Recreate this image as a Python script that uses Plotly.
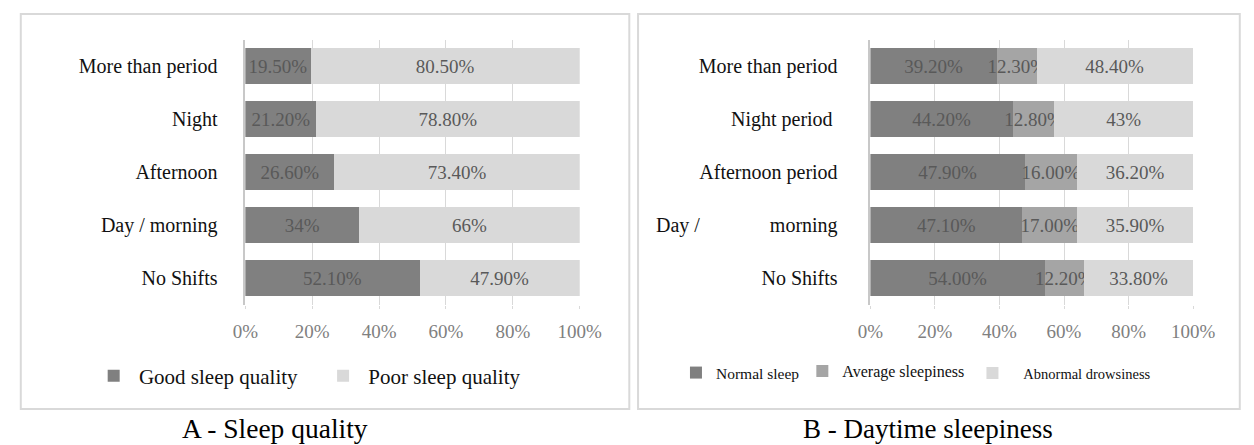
import plotly.graph_objects as go

# ---------------- data ----------------
categories_a = ["More than period", "Night", "Afternoon", "Day\u00a0/ morning", "No Shifts"]
good_sleep = [19.5, 21.2, 26.6, 34, 52.1]
poor_sleep = [80.5, 78.8, 73.4, 66, 47.9]
good_labels = ["19.50%", "21.20%", "26.60%", "34%", "52.10%"]
poor_labels = ["80.50%", "78.80%", "73.40%", "66%", "47.90%"]

categories_b = ["More than period", "Night period\u00a0", "Afternoon period",
                "Day\u00a0/" + "\u00a0" * 14 + "morning",
                "No Shifts"]
normal_sleep = [39.2, 44.2, 47.9, 47.1, 54.0]
average_sleepiness = [12.3, 12.8, 16.0, 17.0, 12.2]
abnormal_drowsiness = [48.4, 43, 36.2, 35.9, 33.8]
normal_labels = ["39.20%", "44.20%", "47.90%", "47.10%", "54.00%"]
average_labels = ["12.30%", "12.80%", "16.00%", "17.00%", "12.20%"]
abnormal_labels = ["48.40%", "43%", "36.20%", "35.90%", "33.80%"]

x_ticks = [0, 20, 40, 60, 80, 100]
x_tick_text = ["0%", "20%", "40%", "60%", "80%", "100%"]

# ---------------- styles ----------------
W, H = 1254, 445
SERIF = "Liberation Serif, Times New Roman, serif"
DARK = "#808080"
MID = "#a5a5a5"
LIGHT = "#d9d9d9"
LABEL_FONT = dict(family=SERIF, size=19, color="#595959")


def px_x(p):
    return p / W


def px_y(p):
    return 1 - p / H


fig = go.Figure()


def add_bar(name, y, x, text, color, xa, ya, legend):
    fig.add_trace(go.Bar(
        name=name, y=y, x=x, orientation="h",
        marker=dict(color=color, line=dict(width=0)),
        text=text, texttemplate="%{text}",
        textposition="inside", insidetextanchor="middle",
        textangle=0, constraintext="none",
        insidetextfont=LABEL_FONT,
        xaxis=xa, yaxis=ya, legend=legend,
        hoverinfo="skip",
    ))


add_bar("\u00a0Good sleep quality", categories_a, good_sleep, good_labels, DARK, "x", "y", "legend")
add_bar("\u00a0Poor sleep quality", categories_a, poor_sleep, poor_labels, LIGHT, "x", "y", "legend2")
add_bar("Normal sleep", categories_b, normal_sleep, normal_labels, DARK, "x2", "y2", "legend3")
add_bar("Average sleepiness", categories_b, average_sleepiness, average_labels, MID, "x2", "y2", "legend4")
add_bar("\u00a0\u00a0\u00a0Abnormal drowsiness", categories_b, abnormal_drowsiness, abnormal_labels, LIGHT, "x2", "y2", "legend5")

y_dom = [px_y(304.5), px_y(39.5)]

xaxis_common = dict(
    range=[0, 100], tickvals=x_ticks, ticktext=x_tick_text,
    showgrid=True, gridcolor="#d9d9d9", gridwidth=1,
    zeroline=False, showline=False,
    ticks="outside", ticklen=3, tickcolor="#d9d9d9",
    tickfont=dict(family=SERIF, size=19, color="#808080"),
    ticklabelstandoff=7, fixedrange=True,
)
yaxis_common = dict(
    autorange="reversed", showgrid=False, zeroline=False,
    showline=True, linecolor="#c8c8c8", linewidth=1.5,
    ticks="", tickfont=dict(family=SERIF, size=20, color="#111111"),
    domain=y_dom, fixedrange=True,
)

legend_common = dict(
    orientation="h", yanchor="middle", xanchor="left",
    bgcolor="rgba(0,0,0,0)", borderwidth=0,
    itemclick=False, itemdoubleclick=False,
)

fig.update_layout(
    width=W, height=H,
    margin=dict(l=0, r=0, t=0, b=0),
    paper_bgcolor="white", plot_bgcolor="white",
    barmode="stack", bargap=0.32,
    showlegend=True,
    xaxis=dict(domain=[px_x(239), px_x(583)], anchor="y", **xaxis_common),
    yaxis=dict(anchor="x", ticklabelstandoff=22, **yaxis_common),
    xaxis2=dict(domain=[px_x(882), px_x(1214)], anchor="y2", **xaxis_common),
    yaxis2=dict(anchor="x2", ticklabelstandoff=27, **yaxis_common),
    legend=dict(x=px_x(103 - 20), y=px_y(376),
                font=dict(family=SERIF, size=21, color="#111111"), **legend_common),
    legend2=dict(x=px_x(339 - 20), y=px_y(376),
                 font=dict(family=SERIF, size=21, color="#111111"), **legend_common),
    legend3=dict(x=px_x(702 - 20), y=px_y(373),
                 font=dict(family=SERIF, size=15.5, color="#111111"), **legend_common),
    legend4=dict(x=px_x(832 - 20), y=px_y(371),
                 font=dict(family=SERIF, size=16, color="#111111"), **legend_common),
    legend5=dict(x=px_x(1007 - 20), y=px_y(373),
                 font=dict(family=SERIF, size=14.5, color="#111111"), **legend_common),
    shapes=[
        dict(type="rect", xref="paper", yref="paper",
             x0=px_x(8), x1=px_x(634), y0=px_y(409), y1=px_y(14),
             line=dict(color="#d9d9d9", width=2), fillcolor="rgba(0,0,0,0)", layer="below"),
        dict(type="rect", xref="paper", yref="paper",
             x0=px_x(643), x1=px_x(1262), y0=px_y(409), y1=px_y(14),
             line=dict(color="#d9d9d9", width=2), fillcolor="rgba(0,0,0,0)", layer="below"),
    ],
    annotations=[
        dict(text="A - Sleep quality", xref="paper", yref="paper",
             x=px_x(270), y=0, xanchor="center", yanchor="bottom", borderpad=0,
             showarrow=False, font=dict(family=SERIF, size=27.5, color="#000000")),
        dict(text="B - Daytime sleepiness", xref="paper", yref="paper",
             x=px_x(941), y=0, xanchor="center", yanchor="bottom", borderpad=0,
             showarrow=False, font=dict(family=SERIF, size=27, color="#000000")),
    ],
)

fig.write_html("out.html", config=dict(displayModeBar=False))
